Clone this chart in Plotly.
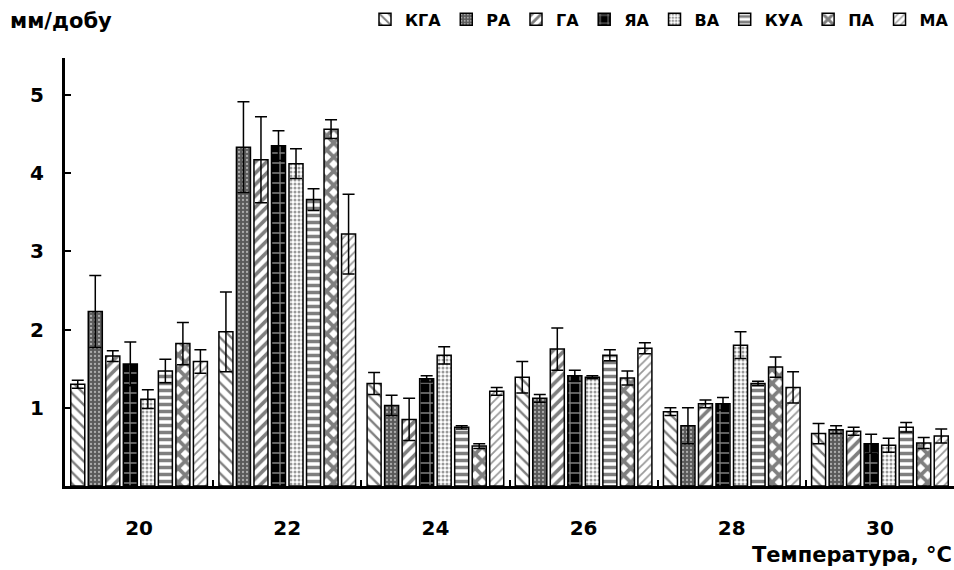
import plotly.graph_objects as go

temps = ["20", "22", "24", "26", "28", "30"]
series_names = ["КГА", "РА", "ГА", "ЯА", "ВА", "КУА", "ПА", "МА"]

kga = [1.30, 1.97, 1.31, 1.39, 0.95, 0.67]
ra = [2.23, 4.33, 1.03, 1.12, 0.77, 0.72]
ga = [1.66, 4.17, 0.85, 1.75, 1.05, 0.70]
ya = [1.56, 4.35, 1.37, 1.41, 1.05, 0.54]
va = [1.11, 4.12, 1.67, 1.39, 1.80, 0.52]
kua = [1.47, 3.66, 0.75, 1.67, 1.31, 0.75]
pa = [1.82, 4.56, 0.51, 1.38, 1.52, 0.55]
ma = [1.59, 3.22, 1.21, 1.76, 1.26, 0.64]

kga_err = [0.05, 0.51, 0.14, 0.20, 0.05, 0.13]
ra_err = [0.46, 0.58, 0.13, 0.05, 0.23, 0.05]
ga_err = [0.07, 0.55, 0.27, 0.27, 0.05, 0.05]
ya_err = [0.28, 0.19, 0.04, 0.07, 0.08, 0.12]
va_err = [0.12, 0.19, 0.11, 0.02, 0.17, 0.09]
kua_err = [0.15, 0.14, 0.02, 0.07, 0.03, 0.06]
pa_err = [0.27, 0.12, 0.03, 0.09, 0.13, 0.07]
ma_err = [0.15, 0.51, 0.05, 0.07, 0.20, 0.09]

values = [kga, ra, ga, ya, va, kua, pa, ma]
errors = [kga_err, ra_err, ga_err, ya_err, va_err, kua_err, pa_err, ma_err]

patterns = [
    dict(shape="\\", fgcolor="black", bgcolor="white", size=8, solidity=0.3),
    dict(shape=".", fgcolor="white", bgcolor="#5a5a5a", size=4, solidity=0.25),
    dict(shape="/", fgcolor="black", bgcolor="white", size=8, solidity=0.45),
    dict(shape="+", fgcolor="white", bgcolor="black", size=10, solidity=0.25),
    dict(shape=".", fgcolor="#333333", bgcolor="white", size=4, solidity=0.45),
    dict(shape="-", fgcolor="black", bgcolor="white", size=7, solidity=0.5),
    dict(shape="x", fgcolor="black", bgcolor="white", size=10, solidity=0.6),
    dict(shape="/", fgcolor="#333333", bgcolor="white", size=6, solidity=0.3),
]

FONT = "DejaVu Sans"

fig = go.Figure()
for name, vals, errs, pat in zip(series_names, values, errors, patterns):
    fig.add_trace(go.Bar(
        name=name, x=temps, y=vals,
        marker=dict(color="white", pattern=pat, line=dict(color="black", width=1.5)),
        error_y=dict(type="data", array=errs, symmetric=True, color="black",
                     thickness=1.5, width=6),
    ))

fig.update_layout(
    width=954, height=570,
    margin=dict(l=65, r=0, t=58, b=84),
    paper_bgcolor="white", plot_bgcolor="white",
    barmode="group", bargap=0.054, bargroupgap=0.2,
    font=dict(family=FONT, size=20, color="black", weight="bold"),
    showlegend=True,
    legend=dict(orientation="h", x=1, xanchor="right", y=1.13, yanchor="top",
                font=dict(family=FONT, size=16, weight="bold"),
                itemwidth=30, tracegroupgap=0,
                bgcolor="rgba(0,0,0,0)"),
    xaxis=dict(type="category", showline=True, linecolor="black", linewidth=3,
               ticks="inside", tickson="boundaries", ticklen=6, tickwidth=2,
               tickcolor="black", showgrid=False, ticklabelstandoff=22,
               tickfont=dict(family=FONT, size=20, weight="bold")),
    yaxis=dict(range=[0, 5.47], tickvals=[1, 2, 3, 4, 5], showline=True,
               linecolor="black", linewidth=3, ticks="inside", ticklen=6,
               tickwidth=2, tickcolor="black", showgrid=False, zeroline=False,
               ticklabelstandoff=14,
               tickfont=dict(family=FONT, size=20, weight="bold")),
    annotations=[
        dict(text="мм/добу", xref="paper", yref="paper", x=-0.064, y=1.12,
             xanchor="left", yanchor="top", showarrow=False,
             font=dict(family=FONT, size=21, weight="bold")),
        dict(text="Температура, °C", xref="paper", yref="paper", x=1.0, y=-0.162,
             xanchor="right", yanchor="middle", showarrow=False,
             font=dict(family=FONT, size=21, weight="bold")),
    ],
)

fig.write_html("out.html", config={"displayModeBar": False},
               post_script="document.body.style.margin='0';document.body.style.overflow='hidden';")
